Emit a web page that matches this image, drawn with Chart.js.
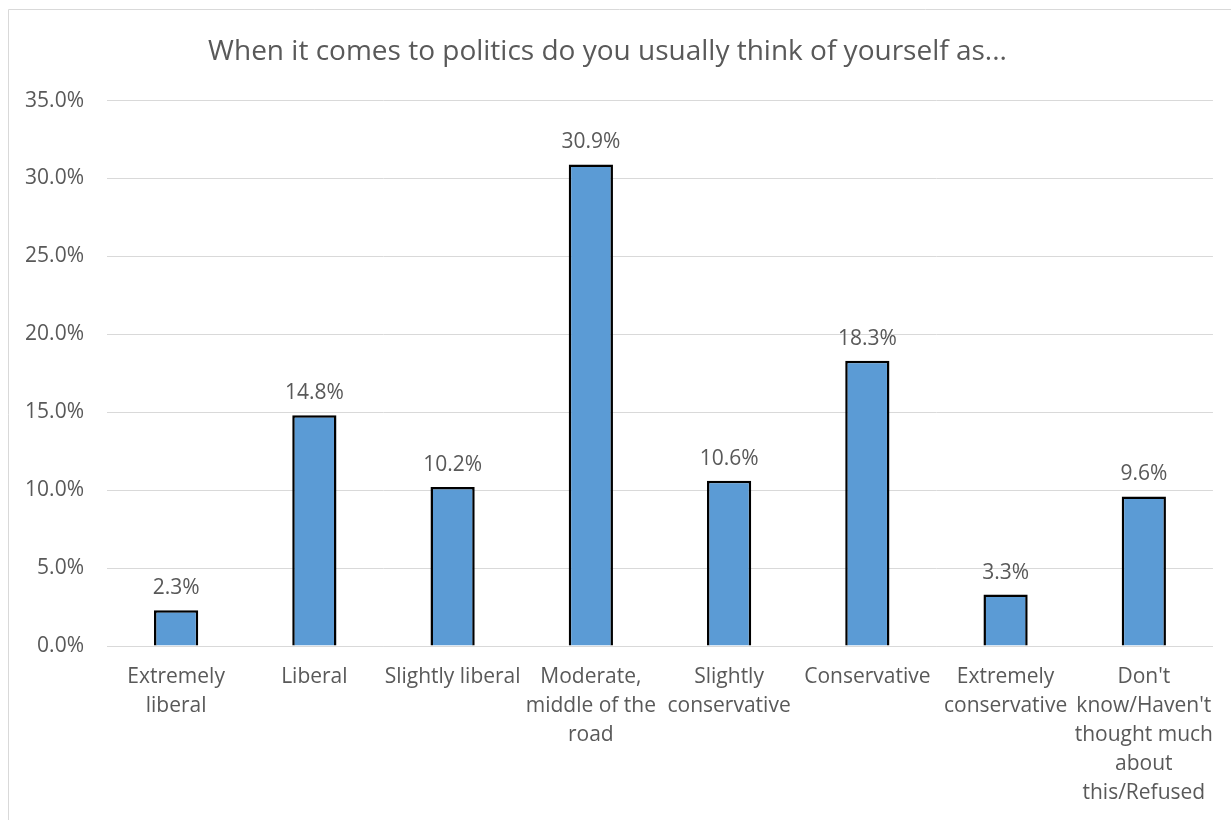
<!DOCTYPE html>
<html>
<head>
<meta charset="utf-8">
<script src="https://cdn.jsdelivr.net/npm/chart.js@4.4.1/dist/chart.umd.min.js"></script>
<style>
  html, body { margin: 0; padding: 0; background: #ffffff; }
  #wrap { position: relative; width: 1231px; height: 820px; }
</style>
</head>
<body>
<div id="wrap"><canvas id="chart" width="1231" height="820"></canvas></div>
<script>
// Survey answers: political self-identification
const chartTitle = "When it comes to politics do you usually think of yourself as...";
const categories = [
  ["Extremely", "liberal"],
  ["Liberal"],
  ["Slightly liberal"],
  ["Moderate,", "middle of the", "road"],
  ["Slightly", "conservative"],
  ["Conservative"],
  ["Extremely", "conservative"],
  ["Don't", "know/Haven't", "thought much", "about", "this/Refused"]
];
const shares = [2.3, 14.8, 10.2, 30.9, 10.6, 18.3, 3.3, 9.6];
const yTicks = [0, 5, 10, 15, 20, 25, 30, 35];

const textColor = "#595959";
const fontFamily = "'Open Sans', 'Liberation Sans', sans-serif";

// Outer frame lines of the chart box (left and top edges)
const framePlugin = {
  id: "frame",
  beforeDraw(chart) {
    const ctx = chart.ctx;
    ctx.save();
    ctx.strokeStyle = "#d9d9d9";
    ctx.lineWidth = 1;
    ctx.beginPath();
    ctx.moveTo(8.5, chart.height);
    ctx.lineTo(8.5, 9.5);
    ctx.lineTo(chart.width, 9.5);
    ctx.stroke();
    ctx.restore();
  }
};

// Value labels printed above each bar
const valueLabels = {
  id: "valueLabels",
  afterDatasetsDraw(chart) {
    const ctx = chart.ctx;
    const meta = chart.getDatasetMeta(0);
    ctx.save();
    ctx.fillStyle = textColor;
    ctx.font = "21px " + fontFamily;
    ctx.textAlign = "center";
    ctx.textBaseline = "middle";
    meta.data.forEach((bar, i) => {
      ctx.fillText(shares[i].toFixed(1) + "%", bar.x, bar.y - 22);
    });
    ctx.restore();
  }
};

new Chart(document.getElementById("chart"), {
  type: "bar",
  data: {
    labels: categories,
    datasets: [{
      data: shares,
      backgroundColor: "#5B9BD5",
      borderColor: "#000000",
      borderWidth: 2.5,
      borderSkipped: "bottom",
      categoryPercentage: 1,
      barPercentage: 0.32
    }]
  },
  options: {
    responsive: false,
    animation: false,
    layout: { padding: { left: 0, right: 16, top: 0, bottom: 0 } },
    plugins: {
      legend: { display: false },
      tooltip: { enabled: false },
      title: {
        display: true,
        text: chartTitle,
        color: textColor,
        font: { family: fontFamily, size: 28, weight: "normal" },
        padding: { top: 35, bottom: 32 }
      }
    },
    scales: {
      x: {
        grid: { display: false, drawTicks: false },
        border: { display: true, color: "#d9d9d9" },
        ticks: {
          color: textColor,
          font: { family: fontFamily, size: 21, lineHeight: 1.38 },
          padding: 17,
          maxRotation: 0,
          autoSkip: false
        },
        afterFit(scale) { scale.height = 174; }
      },
      y: {
        min: 0,
        max: 35,
        afterBuildTicks(scale) { scale.ticks = yTicks.map(v => ({ value: v })); },
        grid: { color: "#d9d9d9", lineWidth: 1, drawTicks: false },
        border: { display: false },
        ticks: {
          color: textColor,
          font: { family: fontFamily, size: 21 },
          padding: 23,
          callback: v => v.toFixed(1) + "%"
        },
        afterFit(scale) { scale.width = 107; }
      }
    }
  },
  plugins: [framePlugin, valueLabels]
});
</script>
</body>
</html>
